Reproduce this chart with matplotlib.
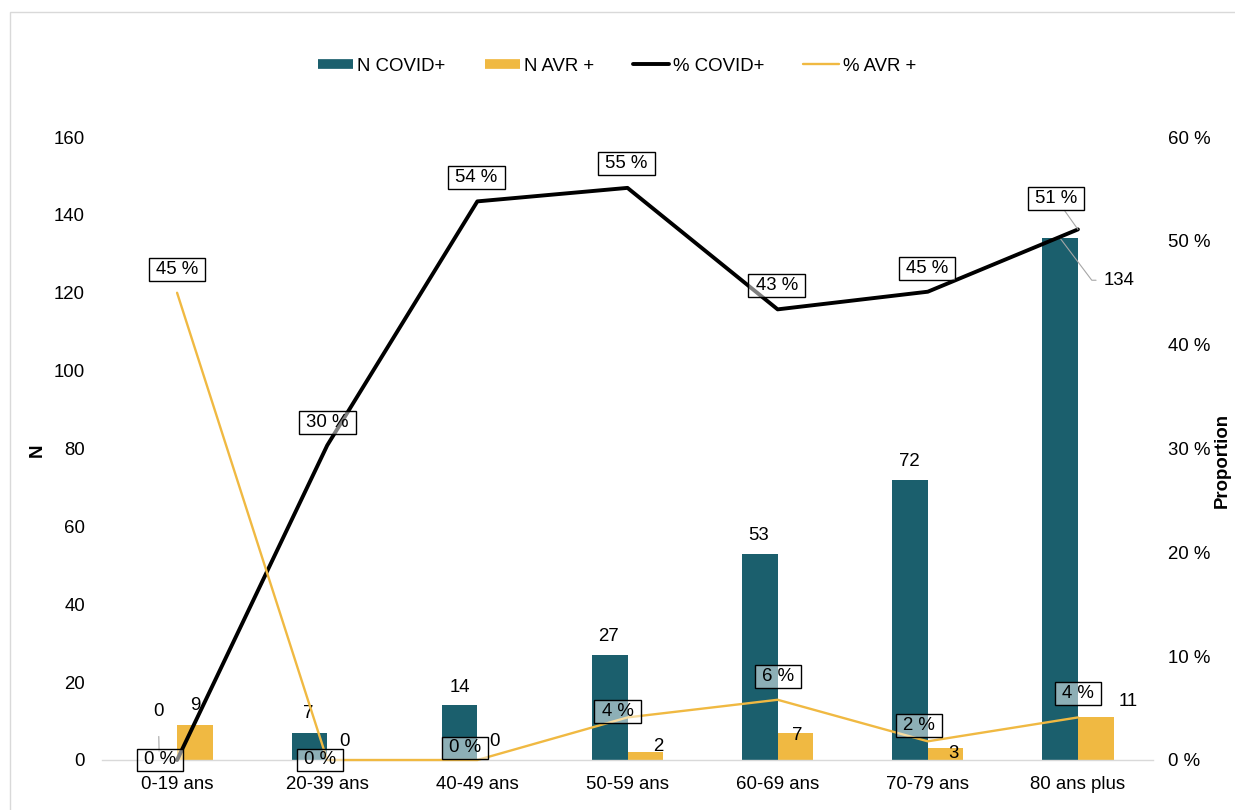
import matplotlib
matplotlib.use("Agg")
import matplotlib.pyplot as plt
import numpy as np
from matplotlib.lines import Line2D
from matplotlib.patches import Rectangle
from matplotlib.path import Path

plt.rcParams['font.family'] = ['Liberation Sans', 'DejaVu Sans']
FS = 13.4

# ---- data -----------------------------------------------------------------
categories = ['0-19 ans', '20-39 ans', '40-49 ans', '50-59 ans',
              '60-69 ans', '70-79 ans', '80 ans plus']
n_covid = [0, 7, 14, 27, 53, 72, 134]
n_avr = [9, 0, 0, 2, 7, 3, 11]
pct_covid = [0.0, 30.3, 53.8, 55.1, 43.4, 45.1, 51.1]
pct_avr = [45.0, 0.0, 0.0, 4.1, 5.8, 1.8, 4.1]

# ---- label offsets (pixels, from the mark) ---------------------------------
off_n_covid = [(-1, 48), (-1, 19), (0, 18), (-1, 18), (-1, 18), (-1, 18), (59, -42)]
off_n_avr = [(0, 19), (-1, 18), (-1, 19), (13, 6), (2, -3), (8, -5), (32, 16)]
off_pct_covid = [(-17, 0), (0, 23), (-1, 24), (-1, 24), (-1, 24), (-1, 23), (-22, 31)]
off_pct_avr = [(0, 23), (-7, 0), (-12, 12), (-10, 6), (0, 23), (-9, 16), (0, 24)]

TEAL = '#1b5f6d'
GOLD = '#f0b942'
LEADER = '#a6a6a6'


class PadBox:
    """Rectangular label frame with separate horizontal/vertical padding."""

    def __init__(self, padx, pady):
        self.padx, self.pady = padx, pady

    def __call__(self, x0, y0, width, height, mutation_size):
        px, py = self.padx * mutation_size, self.pady * mutation_size
        x1, y1 = x0 + width + px, y0 + height + py
        x0, y0 = x0 - px, y0 - py
        return Path([(x0, y0), (x1, y0), (x1, y1), (x0, y1), (x0, y0)], closed=True)


BOX = dict(boxstyle=PadBox(0.38, 0.16), fc=(1, 1, 1, 0.5), ec='black', lw=1.0)

fig = plt.figure(figsize=(12.35, 8.10), dpi=100)
fig.patches.append(Rectangle((10 / 1235, -0.1), 2.0, 1.1 - 12 / 810,
                             transform=fig.transFigure, fill=False,
                             ec='#d9d9d9', lw=1.0))

ax = fig.add_axes([102 / 1235, 50 / 810, 1051 / 1235, 623 / 810])
ax2 = ax.twinx()

x = np.arange(len(categories))
w = 0.237
ax.bar(x - w / 2, n_covid, w, color=TEAL, zorder=2)
ax.bar(x + w / 2, n_avr, w, color=GOLD, zorder=2)
ax.set_xlim(-0.5, len(categories) - 0.5)
ax.set_ylim(0, 160)
ax2.set_ylim(0, 60)

ax2.plot(x, pct_covid, color='black', lw=2.8, solid_joinstyle='round',
         solid_capstyle='round', clip_on=False, zorder=3)
ax2.plot(x, pct_avr, color=GOLD, lw=1.7, solid_joinstyle='round',
         solid_capstyle='round', clip_on=False, zorder=4)

# axes styling
for a in (ax, ax2):
    for s in ('top', 'left', 'right'):
        a.spines[s].set_visible(False)
ax2.spines['bottom'].set_visible(False)
ax.spines['bottom'].set_color('#d9d9d9')
ax.spines['bottom'].set_linewidth(1.0)

ax.set_yticks(range(0, 161, 20))
ax.tick_params(axis='y', length=0, pad=12.2, labelsize=FS)
ax.set_xticks(x, categories)
ax.tick_params(axis='x', length=0, pad=11.5, labelsize=FS)
ax2.set_yticks(range(0, 61, 10))
ax2.yaxis.set_major_formatter(lambda v, p: f'{v:.0f} %')
ax2.tick_params(axis='y', length=0, pad=10.8, labelsize=FS)

# ---- value labels on bars --------------------------------------------------
for i, v in enumerate(n_covid):
    dx, dy = off_n_covid[i]
    kw = {}
    if i == 0:
        kw['arrowprops'] = dict(arrowstyle='-', color=LEADER, lw=0.8,
                                shrinkA=9.5, shrinkB=6)
    elif i == len(n_covid) - 1:
        kw['arrowprops'] = dict(arrowstyle='-', color=LEADER, lw=0.8,
                                shrinkA=3.5, shrinkB=0,
                                connectionstyle='angle,angleA=0,angleB=-53,rad=0')
    ax.annotate(f'{v}', xy=(x[i] - w / 2, v), xytext=(dx, dy),
                textcoords='offset pixels', ha='center', va='center',
                fontsize=FS, zorder=5, **kw)

for i, v in enumerate(n_avr):
    dx, dy = off_n_avr[i]
    ax.annotate(f'{v}', xy=(x[i] + w / 2, v), xytext=(dx, dy),
                textcoords='offset pixels', ha='center', va='center',
                fontsize=FS, zorder=5)

# ---- percentage labels on lines --------------------------------------------
for i, v in enumerate(pct_covid):
    dx, dy = off_pct_covid[i]
    kw = {}
    if i == len(pct_covid) - 1:
        kw['arrowprops'] = dict(arrowstyle='-', color=LEADER, lw=0.8,
                                shrinkA=0, shrinkB=0)
    ax2.annotate(f'{v:.0f} %', xy=(x[i], v), xytext=(dx, dy),
                 textcoords='offset pixels', ha='center', va='center',
                 fontsize=FS, bbox=BOX, zorder=6, **kw)

for i, v in enumerate(pct_avr):
    dx, dy = off_pct_avr[i]
    ax2.annotate(f'{v:.0f} %', xy=(x[i], v), xytext=(dx, dy),
                 textcoords='offset pixels', ha='center', va='center',
                 fontsize=FS, bbox=BOX, zorder=6)

# ---- axis titles ------------------------------------------------------------
fig.text(29 / 1235, 1 - 450 / 810, 'N', rotation=90, fontweight='bold',
         fontsize=FS, ha='left', va='center')
fig.text(1214 / 1235, 1 - 461 / 810, 'Proportion', rotation=90,
         fontweight='bold', fontsize=FS, ha='left', va='center')

# ---- legend -------------------------------------------------------------------
handles = [
    Line2D([], [], color=TEAL, lw=7, solid_capstyle='butt'),
    Line2D([], [], color=GOLD, lw=7, solid_capstyle='butt'),
    Line2D([], [], color='black', lw=2.8, solid_capstyle='round'),
    Line2D([], [], color=GOLD, lw=1.7, solid_capstyle='round'),
]
labels = ['N COVID+', 'N AVR +', '% COVID+', '% AVR +']
fig.legend(handles, labels, loc='center', bbox_to_anchor=(617 / 1235, 1 - 66 / 810),
           ncol=4, frameon=False, fontsize=FS, handlelength=1.9,
           handletextpad=0.22, columnspacing=2.1)

fig.savefig('out.png', dpi=100)
